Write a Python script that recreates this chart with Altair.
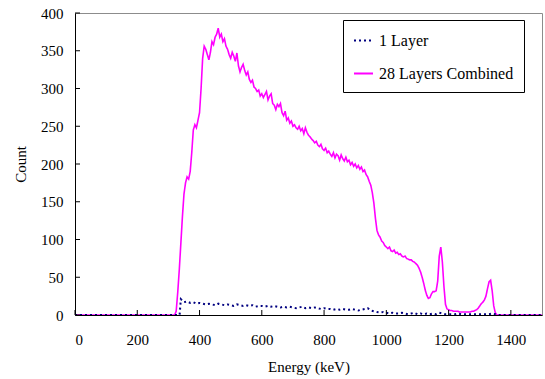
import altair as alt
import pandas as pd

# 28 layers combined: counts every 5 keV starting at 320 keV
mag_counts = [
    0, 5, 30, 60, 95, 130, 160, 175, 183, 180,
    190, 215, 245, 252, 248, 258, 268, 300, 340, 356,
    352, 345, 338, 348, 362, 358, 368, 372, 380, 368,
    372, 362, 366, 356, 352, 345, 340, 348, 343, 336,
    347, 330, 322, 328, 332, 324, 318, 322, 312, 308,
    311, 302, 300, 296, 298, 290, 293, 288, 292, 296,
    285, 290, 293, 280, 278, 272, 279, 276, 280, 268,
    264, 270, 258, 261, 254, 257, 250, 252, 248, 246,
    250, 244, 247, 240, 248, 242, 238, 236, 233, 231,
    228, 230, 225, 223, 226, 220, 218, 221, 215, 217,
    213, 210, 215, 208, 213, 211, 205, 212, 207, 204,
    209, 203, 205, 199, 202, 197, 200, 195, 198, 193,
    196, 190, 192, 186, 183, 177, 172, 162, 148, 128,
    112, 106, 103, 98, 96, 92, 90, 88, 90, 85,
    84, 86, 82, 83, 80, 81, 78, 77, 78, 75,
    74, 73, 73, 71, 70, 68, 66, 62, 57, 50,
    42, 33, 26, 22, 23, 28, 31, 31, 32, 45,
    78, 90, 70, 38, 14, 8, 7, 6, 6, 5,
    5, 5, 5, 4, 4, 4, 4, 4, 4, 4,
    4, 5, 5, 6, 7, 9, 12, 15, 17, 20,
    25, 35, 44, 46, 32, 12, 3, 0, 0, 0,
]
mag_start = 320
mag_step = 5

# 1 layer: counts every 10 keV starting at 340 keV
one_counts = [
    21, 17, 18, 16, 17, 15, 16, 15, 14, 15,
    14, 13, 15, 14, 13, 14, 13, 12, 14, 13,
    12, 13, 12, 13, 11, 12, 12, 11, 12, 11,
    12, 11, 10, 11, 10, 11, 10, 9, 10, 11,
    9, 10, 9, 10, 9, 8, 9, 8, 8, 7,
    8, 7, 8, 7, 7, 8, 7, 6, 7, 8,
    9, 6, 5, 4, 3, 4, 3, 2, 3, 2,
    2, 3, 2, 1, 2, 3, 1, 2, 1, 2,
    1, 2, 1, 3, 2, 1, 1, 1, 1, 2,
    1, 1, 1, 1, 1, 1, 1, 1, 1, 1,
    2, 1,
]
one_start = 340
one_step = 10

series_names = ["1 Layer", "28 Layers Combined"]
x_ticks = [0, 200, 400, 600, 800, 1000, 1200, 1400]
y_ticks = [0, 50, 100, 150, 200, 250, 300, 350, 400]

rows = []
mag_e = [0] + [mag_start + mag_step * i for i in range(len(mag_counts))] + [1500]
mag_c = [0] + mag_counts + [0]
for i, (e, c) in enumerate(zip(mag_e, mag_c)):
    rows.append({"Energy": e, "Count": c, "Series": series_names[1], "order": i})
one_e = [0, 336] + [one_start + one_step * i for i in range(len(one_counts))] + [1356, 1500]
one_c = [0, 0] + one_counts + [0, 0]
for i, (e, c) in enumerate(zip(one_e, one_c)):
    rows.append({"Energy": e, "Count": c, "Series": series_names[0], "order": i})
df = pd.DataFrame(rows)

FONT = "Liberation Serif, Times New Roman, serif"
W, H = 467, 302

xscale = alt.Scale(domain=[0, 1500], nice=False, zero=False)
yscale = alt.Scale(domain=[0, 400], nice=False)

xaxis = alt.Axis(title="Energy (keV)", values=x_ticks, tickSize=0,
                 labelPadding=17, titlePadding=12, grid=False,
                 domainColor="black", format="d",
                 labelFont=FONT, titleFont=FONT, labelFontSize=15, titleFontSize=15,
                 titleFontWeight="normal", labelColor="black", titleColor="black")
yaxis = alt.Axis(title="Count", values=y_ticks, tickSize=0,
                 labelPadding=12, titlePadding=12, grid=False,
                 domainColor="black", format="d",
                 labelFont=FONT, titleFont=FONT, labelFontSize=15, titleFontSize=15,
                 titleFontWeight="normal", labelColor="black", titleColor="black")

lines = alt.Chart(df).mark_line(strokeWidth=1.6, clip=True).encode(
    x=alt.X("Energy:Q", scale=xscale, axis=xaxis, title="Energy (keV)"),
    y=alt.Y("Count:Q", scale=yscale, axis=yaxis, title="Count"),
    color=alt.Color("Series:N",
                    scale=alt.Scale(domain=series_names, range=["#000080", "#ff00ff"]),
                    legend=alt.Legend(title=None, orient="none", legendX=268, legendY=7,
                                      symbolType="stroke", symbolSize=361,
                                      symbolStrokeWidth=2, labelFont=FONT,
                                      labelFontSize=16, labelColor="black",
                                      strokeColor="black", padding=10,
                                      rowPadding=14, labelOffset=5,
                                      fillColor="white")),
    strokeDash=alt.StrokeDash("Series:N",
                              scale=alt.Scale(domain=series_names, range=[[2, 3], [1, 0]]),
                              legend=None),
    order=alt.Order("order:Q"),
    detail="Series:N",
)

# draw magenta below the dotted blue line
mag_layer = lines.transform_filter(alt.datum.Series == series_names[1])
one_layer = lines.transform_filter(alt.datum.Series == series_names[0]).mark_line(
    strokeWidth=2, clip=True)

xt = alt.Chart(pd.DataFrame({"t": x_ticks})).mark_rule(color="black").encode(
    x=alt.X("t:Q", scale=xscale, axis=xaxis, title="Energy (keV)"),
    y=alt.value(H), y2=alt.value(H - 5))
yt = alt.Chart(pd.DataFrame({"t": y_ticks})).mark_rule(color="black").encode(
    y=alt.Y("t:Q", scale=yscale, axis=yaxis, title="Count"),
    x=alt.value(0), x2=alt.value(5))

chart = alt.layer(mag_layer, one_layer, xt, yt).properties(
    width=W, height=H,
    autosize=alt.AutoSizeParams(type="none"),
    padding={"left": 75, "top": 13, "right": 3, "bottom": 64},
    background="white",
).configure_view(stroke="#8c8c8c", strokeWidth=1).configure_legend(
    labelFont=FONT).configure_axis(labelFont=FONT, titleFont=FONT)

chart.save("out.html", embed_options={"renderer": "svg", "actions": False})
